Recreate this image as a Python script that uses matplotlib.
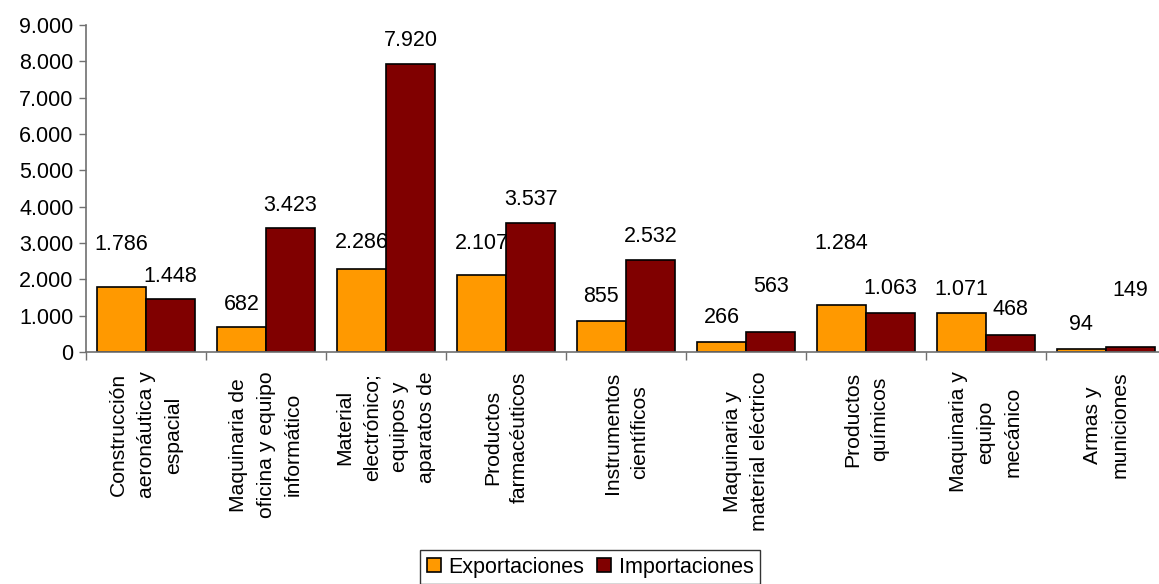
import numpy as np
import matplotlib
matplotlib.use("Agg")
import matplotlib.pyplot as plt
from matplotlib.ticker import FuncFormatter

# data
categorias = [
    "Construcción\naeronáutica y\nespacial",
    "Maquinaria de\noficina y equipo\ninformático",
    "Material\nelectrónico;\nequipos y\naparatos de",
    "Productos\nfarmacéuticos",
    "Instrumentos\ncientíficos",
    "Maquinaria y\nmaterial eléctrico",
    "Productos\nquímicos",
    "Maquinaria y\nequipo\nmecánico",
    "Armas y\nmuniciones",
]
exportaciones = [1786, 682, 2286, 2107, 855, 266, 1284, 1071, 94]
importaciones = [1448, 3423, 7920, 3537, 2532, 563, 1063, 468, 149]

# label lift above bar top, in pixels (Excel placed them unevenly)
lift_exp = [43, 23, 26, 32, 24, 25, 62, 24, 24]
lift_imp = [23, 22, 24, 24, 24, 45, 25, 25, 56]

plt.rcParams['font.family'] = ['Liberation Sans', 'DejaVu Sans']
FS = 15.5
FS_CAT = 15.2

fig = plt.figure(figsize=(11.59, 5.84), dpi=100)
ax = fig.add_axes([86 / 1159, 232 / 584, 1080 / 1159, 327 / 584])

x = np.arange(len(categorias))
w = 0.41
b1 = ax.bar(x + 0.09, exportaciones, width=w, align='edge', color='#FF9900',
            edgecolor='black', linewidth=1.2, label='Exportaciones')
b2 = ax.bar(x + 0.09 + w, importaciones, width=w, align='edge', color='#800000',
            edgecolor='black', linewidth=1.2, label='Importaciones')

def fmt(v):
    return f"{v:,.0f}".replace(",", ".")

for bars, vals, lifts in [(b1, exportaciones, lift_exp), (b2, importaciones, lift_imp)]:
    for r, v, d in zip(bars, vals, lifts):
        ax.annotate(fmt(v), (r.get_x() + r.get_width() / 2, v),
                    xytext=(0, d), textcoords='offset pixels',
                    ha='center', va='center', fontsize=FS)

ax.set_xlim(0, len(categorias))
ax.set_ylim(0, 9000)
ax.set_yticks(np.arange(0, 9001, 1000))
ax.yaxis.set_major_formatter(FuncFormatter(lambda v, p: fmt(v)))
ax.tick_params(axis='y', labelsize=FS, length=5, width=1, direction='out', pad=4)

ax.set_xticks(x + 0.5)
ax.set_xticklabels(categorias, rotation=90, fontsize=FS_CAT, ha='center', va='top',
                   multialignment='center', linespacing=1.55)
ax.tick_params(axis='x', which='major', length=0, pad=14)
ax.set_xticks(np.arange(0, len(categorias) + 1), minor=True)
ax.tick_params(axis='x', which='minor', length=6, width=1, direction='out')

for s in ['top', 'right']:
    ax.spines[s].set_visible(False)
for s in ['left', 'bottom']:
    ax.spines[s].set_color('#707070')
    ax.spines[s].set_linewidth(1.2)
ax.tick_params(colors='#707070', which='both', labelcolor='black')

leg = fig.legend(handles=[b1, b2], loc='center', bbox_to_anchor=(590 / 1159, 17 / 584),
                 ncol=2, fontsize=FS, frameon=True, fancybox=False, edgecolor='black',
                 handlelength=0.65, handleheight=0.65, handletextpad=0.35, columnspacing=0.6,
                 borderpad=0.3, borderaxespad=0)
leg.get_frame().set_linewidth(1.0)

fig.savefig("out.png", dpi=100)
